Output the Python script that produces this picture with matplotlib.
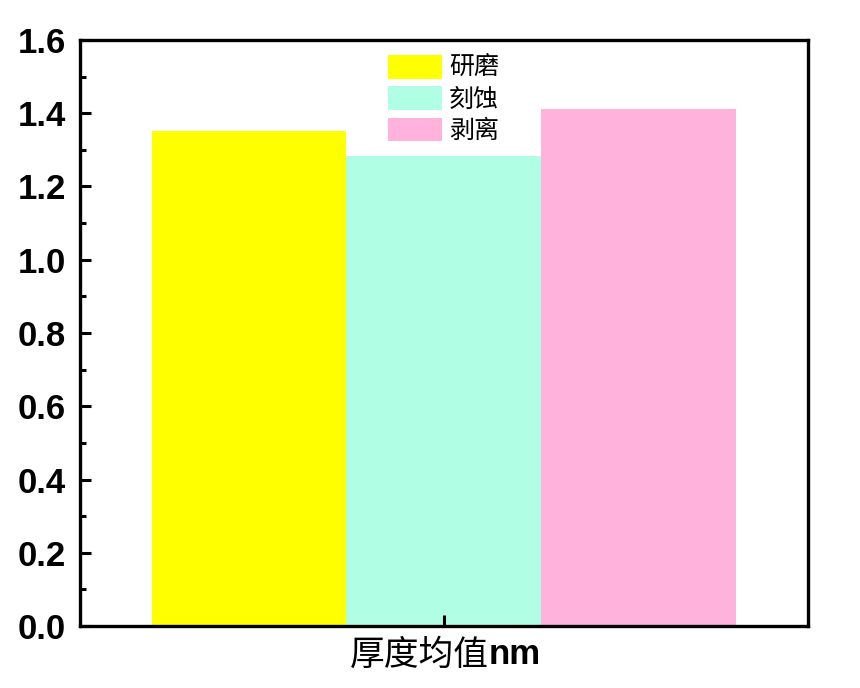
import matplotlib
matplotlib.use('Agg')
import matplotlib.pyplot as plt
from matplotlib.ticker import MultipleLocator

# data
methods = ['研磨', '刻蚀', '剥离']
thickness = [1.352, 1.284, 1.412]
colors = ['#ffff00', '#b0ffe4', '#ffb3dc']
category = '厚度均值'
unit = 'nm'

fig = plt.figure(figsize=(8.6, 6.88), dpi=100)
ax = fig.add_axes([0.093, 0.0901, 0.8465, 0.8518])

offsets = [-1, 0, 1]
for off, val, col, name in zip(offsets, thickness, colors, methods):
    ax.bar(off, val, width=1.0, color=col, label=name, linewidth=0)

ax.set_xlim(-1.867, 1.867)
ax.set_ylim(0, 1.6)
ax.set_xticks([0])
ax.set_xticklabels([''])
ax.yaxis.set_major_locator(MultipleLocator(0.2))
ax.yaxis.set_minor_locator(MultipleLocator(0.1))

for s in ax.spines.values():
    s.set_linewidth(2.4)

ax.tick_params(axis='both', which='major', direction='in', length=8, width=2.2)
ax.tick_params(axis='y', which='minor', direction='in', length=4.5, width=2.2)
ax.tick_params(axis='y', labelsize=25, pad=10)
for lab in ax.get_yticklabels():
    lab.set_fontfamily('Liberation Sans')
    lab.set_fontweight('bold')

# x label: chinese part plain, unit in bold
ax.text(0.562, -0.02, category, transform=ax.transAxes, ha='right', va='top',
        fontsize=25, fontfamily='Noto Sans CJK SC')
ax.text(0.562, -0.02, unit, transform=ax.transAxes, ha='left', va='top',
        fontsize=25, fontfamily='Liberation Sans', fontweight='bold')

leg = ax.legend(loc='upper left', bbox_to_anchor=(0.402, 1.0), frameon=False,
                prop={'family': 'Noto Sans CJK SC', 'size': 18},
                handlelength=2.16, handleheight=1.08, handletextpad=0.3,
                labelspacing=0.2, borderaxespad=0.2)

fig.savefig('out.png', dpi=100)
